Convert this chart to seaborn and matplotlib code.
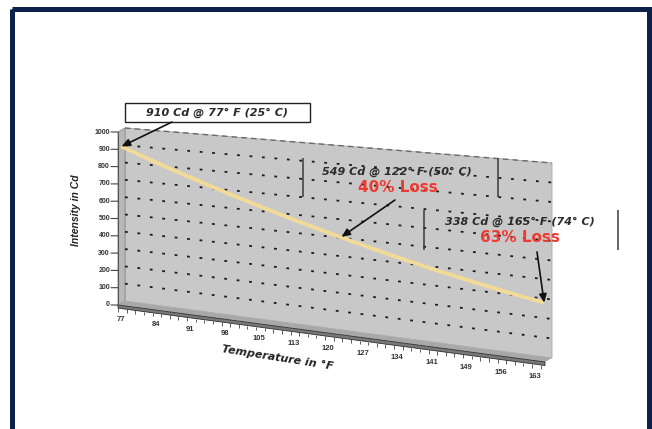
import numpy as np
import matplotlib
matplotlib.use('Agg')
import matplotlib.pyplot as plt
import matplotlib.transforms as mtransforms
from matplotlib.patches import Polygon, Rectangle
import seaborn as sns

# values (x in deg C, one category per degree)
temp_c = [25, 29, 33, 37, 41, 45, 49, 53, 57, 61, 65, 69, 73, 74]
intensity = [905, 830, 763, 699, 640, 584, 533, 485, 441, 400, 363, 329, 298, 291]
categories = list(range(25, 75))
tick_c = [25, 29, 33, 37, 41, 45, 49, 53, 57, 61, 65, 69, 73]
tick_f = ['77', '84', '91', '98', '105', '113', '120', '127', '134', '141', '149', '156', '163']
y_ticks = [0, 100, 200, 300, 400, 500, 600, 700, 800, 900, 1000]
grid_vals = [100, 200, 300, 400, 500, 600, 700, 800, 900]

# 3D-ish wall geometry (pixels), back wall, front edge shifted by depth
C0, C1 = 25, 74.5
XL, XR = 125, 552
Y0L, Y0R = 301, 358
Y1L, Y1R = 128, 163
DX, DY = -7, 4


class Wall(mtransforms.Transform):
    """maps (deg C, Cd) on a plane at some depth to pixel coords"""
    input_dims = 2
    output_dims = 2
    is_separable = False

    def __init__(self, dep=0.0):
        super().__init__()
        self.dep = dep

    def transform_non_affine(self, values):
        values = np.asarray(values, dtype=float)
        c, v = values[:, 0], values[:, 1]
        t = (c - C0) / (C1 - C0)
        y0 = Y0L + t * (Y0R - Y0L)
        y1 = Y1L + t * (Y1R - Y1L)
        px = XL + t * (XR - XL) + DX * self.dep
        py = y0 - v / 1000.0 * (y0 - y1) + DY * self.dep
        return np.column_stack([px, py])


sns.set_style('white')
plt.rcParams['font.family'] = ['Liberation Sans', 'DejaVu Sans']
plt.rcParams['lines.scale_dashes'] = False

fig = plt.figure(figsize=(6.52, 4.29), dpi=100)
ax = fig.add_axes([0, 0, 1, 1])
ax.set_xlim(0, 652)
ax.set_ylim(429, 0)

back = Wall(0.0) + ax.transData
front = Wall(1.0) + ax.transData
mid = Wall(0.5) + ax.transData
wb = Wall(0.0)
wf = Wall(1.0)

# back wall
ax.add_patch(Polygon([(C0, 0), (C1, 0), (C1, 1000), (C0, 1000)], closed=True,
                     facecolor='#c8c8c8', edgecolor='#a8a8a8', lw=0.6, transform=back, zorder=1))
# left side wall
side = np.vstack([wb.transform([(C0, 0), (C0, 1000)]), wf.transform([(C0, 1000), (C0, 0)])])
ax.add_patch(Polygon(side, closed=True, facecolor='#b8b8b8', edgecolor='#8a8a8a', lw=0.6, zorder=1))
# floor top and front face
floor = np.vstack([wb.transform([(C0, 0), (C1, 0)]), wf.transform([(C1, 0), (C0, 0)])])
ax.add_patch(Polygon(floor, closed=True, facecolor='#a8a8a8', edgecolor='none', zorder=1))
ax.add_patch(Polygon([(C0, 0), (C1, 0), (C1, -18), (C0, -18)], closed=True,
                     facecolor='#787878', edgecolor='#303030', lw=0.6, transform=front, zorder=1))

# top edge of wall + dotted gridlines
ax.plot([C0, C1], [1000, 1000], color='#6a6a6a', lw=1.0, ls=(0, (4, 3)), transform=back, zorder=2)
for g in grid_vals:
    ax.plot([C0, C1], [g, g], color='#1a1a1a', lw=1.3, ls=(0, (2.0, 7.0)), transform=back, zorder=2)

# x ticks along the floor edge
ax.vlines(categories, -18, -38, color='#404040', lw=0.6, transform=front, zorder=2)
lab_tr = mtransforms.offset_copy(front, fig=fig, x=3, y=0, units='dots')
for c, lab in zip(tick_c, tick_f):
    ax.text(c, -85, lab, transform=lab_tr, ha='center', va='center',
            fontsize=5.5, fontweight='bold', color='#333333')

# y axis at the front-left edge
ax.plot([C0, C0], [0, 1000], color='#555555', lw=0.8, transform=front, zorder=2)
ytick_tr = mtransforms.offset_copy(front, fig=fig, x=-7, y=0, units='dots')
ylab_tr = mtransforms.offset_copy(front, fig=fig, x=-8, y=0, units='dots')
for y in y_ticks:
    ax.annotate('', xy=(C0, y), xycoords=front, xytext=(C0, y), textcoords=ytick_tr,
                arrowprops=dict(arrowstyle='-', color='#444444', lw=0.8, shrinkA=0, shrinkB=0))
    ax.text(C0, y, str(y), transform=ylab_tr, ha='right', va='center',
            fontsize=5, fontweight='bold', color='#333333')

# the intensity curve
sns.lineplot(x=temp_c, y=intensity, ax=ax, color='#f2da98', lw=2.8,
             transform=mid, solid_capstyle='butt', zorder=3)

# axis titles
ax.text(278, 358, 'Temperature in °F', rotation=-9, rotation_mode='anchor',
        ha='center', va='center', fontsize=8, fontweight='bold', style='italic',
        family='DejaVu Sans', color='#222222')
ax.text(76, 210, 'Intensity in Cd', rotation=90, ha='center', va='center',
        fontsize=7.5, fontweight='bold', style='italic', color='#222222')

txt_kw = dict(ha='center', va='center', fontsize=8, fontweight='bold', style='italic',
              family='DejaVu Sans', color='#2a2a2a', zorder=6)
red_kw = dict(ha='center', va='center', fontsize=11, fontweight='bold', color='#ee3a30',
              family='DejaVu Sans', zorder=6)
arr_kw = dict(arrowstyle='-|>,head_length=0.5,head_width=0.22', color='#111111', lw=1.2,
              shrinkA=0, shrinkB=0)

# 910 box
ax.add_patch(Rectangle((125, 103), 185, 19, facecolor='white', edgecolor='#222222', lw=1.0, zorder=5))
ax.text(217, 112.5, '910 Cd @ 77° F (25° C)', **txt_kw)
ax.annotate('', xy=(25, 905), xycoords=mid, xytext=(172, 122), textcoords='data',
            arrowprops=arr_kw, zorder=6)

# 549 note
ax.vlines([303, 498], 158, 197, color='#3a3a3a', lw=1.1, zorder=5)
ax.text(397, 172, '549 Cd @ 122° F (50° C)', **txt_kw)
ax.text(398, 188, '40% Loss', **red_kw)
ax.annotate('', xy=(50.5, 518), xycoords=mid, xytext=(395, 200), textcoords='data',
            arrowprops=arr_kw, zorder=6)

# 338 note
ax.vlines([424, 618], 210, 250, color='#3a3a3a', lw=1.1, zorder=5)
ax.text(520, 222, '338 Cd @ 165° F (74° C)', **txt_kw)
ax.text(520, 238, '63% Loss', **red_kw)
ax.annotate('', xy=(74, 291), xycoords=mid, xytext=(537, 252), textcoords='data',
            arrowprops=arr_kw, zorder=6)

# navy frame
ax.add_patch(Rectangle((11.5, 8.5), 637, 440, facecolor='none', edgecolor='#0c2148',
                       lw=3.6, clip_on=False, zorder=10))

ax.set_xlim(0, 652)
ax.set_ylim(429, 0)
ax.axis('off')
fig.savefig('out.png', dpi=100)
